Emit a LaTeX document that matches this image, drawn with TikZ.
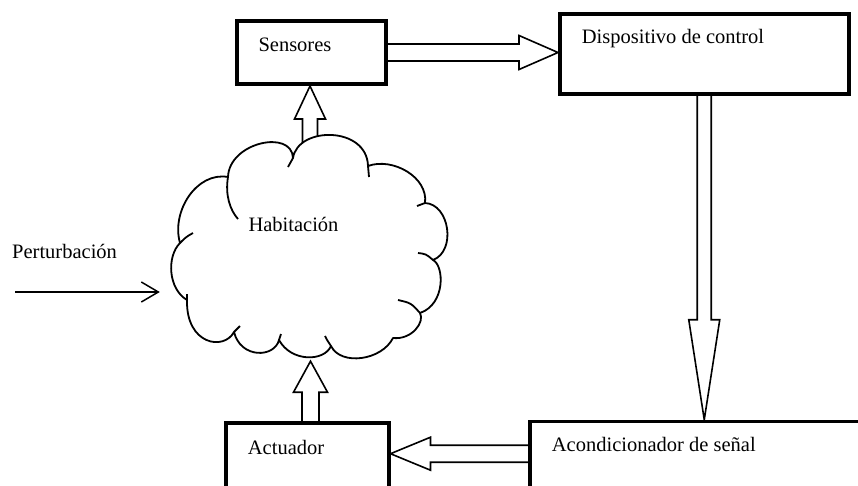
\documentclass[tikz,border=0pt]{standalone}
\usepackage{fontspec}
\setmainfont{Liberation Serif}
\usetikzlibrary{calc,arrows.meta,backgrounds}
\begin{document}
\begin{tikzpicture}[x=1pt,y=-1pt,
  boxA/.style={draw,line width=4pt,fill=white,inner sep=0pt,outer sep=0pt},
  boxB/.style={draw,line width=3.3pt,fill=white,inner sep=0pt,outer sep=0pt},
  lbl/.style={inner sep=0pt,anchor=base west,font=\fontsize{20.5}{24}\selectfont},
  blockarr/.style={draw,line width=1.6pt,fill=white,line join=miter},
  cloudline/.style={line width=1.8pt,line join=round},
  thinarr/.style={line width=1.5pt,-{Straight Barb[length=17pt,width=20pt]}}
]
\useasboundingbox (0,0) rectangle (858,485);
\clip (0,0) rectangle (858,485);

% boxes
\node[boxA, minimum width=149pt, minimum height=63pt] (sens) at (311.5,52.5) {};
\node[boxA, minimum width=288.5pt, minimum height=80pt] (disp) at (704.25,53.5) {};
\node[boxB, minimum width=163pt, minimum height=97pt] (act) at (307.5,471.5) {};
\node[boxB, minimum width=370pt, minimum height=98.3pt] (acon) at (715,470.85) {};
% cloud extent
\node[inner sep=0pt, minimum width=275pt, minimum height=226pt] (hab) at (310,248) {};

\coordinate (s1) at (sens.east);
\coordinate (t1) at ($(disp.west |- sens.east)+(-2,0)$);
\coordinate (s2) at (disp.south);
\coordinate (t2) at ($(disp.south |- acon.north)+(0,-2)$);
\coordinate (s3) at ($(acon.north west)+(0,32)$);
\coordinate (t3) at ($(act.east |- s3)+(1.5,0)$);
\coordinate (s4) at ($(act.north)+(3,0)$);
\coordinate (t4) at (s4 |- hab.south);
\coordinate (s5) at ($(hab.north)+(0,20)$);
\coordinate (t5) at ($(hab.north |- sens.south)+(0,2)$);
\coordinate (pa) at (15,292);

\begin{scope}[on background layer]
  \fill[white] (0,0) rectangle (858,485);
  % Sensores -> Dispositivo
  \draw[blockarr] ($(s1)+(0,-8.5)$) -- ($(t1)+(-39,-8.5)$) -- ($(t1)+(-39,-17)$) -- (t1)
     -- ($(t1)+(-39,17)$) -- ($(t1)+(-39,8.5)$) -- ($(s1)+(0,8.5)$);
  % Dispositivo -> Acondicionador
  \draw[blockarr] ($(s2)+(-7,0)$) -- ($(t2)+(-7,-100)$) -- ($(t2)+(-15.5,-100)$) -- (t2)
     -- ($(t2)+(15.5,-100)$) -- ($(t2)+(7,-100)$) -- ($(s2)+(7,0)$);
  % Acondicionador -> Actuador
  \draw[blockarr] ($(s3)+(0,-8.5)$) -- ($(t3)+(40,-8.5)$) -- ($(t3)+(40,-16.5)$) -- (t3)
     -- ($(t3)+(40,16.5)$) -- ($(t3)+(40,8.5)$) -- ($(s3)+(0,8.5)$);
  % Actuador -> Habitacion
  \draw[blockarr] ($(s4)+(-8.5,0)$) -- ($(t4)+(-8.5,31)$) -- ($(t4)+(-17,31)$) -- (t4)
     -- ($(t4)+(17,31)$) -- ($(t4)+(8.5,31)$) -- ($(s4)+(8.5,0)$);
  % Habitacion -> Sensores
  \draw[blockarr] ($(s5)+(-7.5,0)$) -- ($(t5)+(-7.5,33)$) -- ($(t5)+(-15.5,33)$) -- (t5)
     -- ($(t5)+(15.5,33)$) -- ($(t5)+(7.5,33)$) -- ($(s5)+(7.5,0)$);
\end{scope}

% cloud
\draw[cloudline, fill=white] (180,243)
  .. controls (171,211.6) and (196.6,171.4) .. (228,177)
  .. controls (229.1,142.3) and (291.9,128.9) .. (293,158)
  .. controls (298,126) and (367,126) .. (368,166)
  .. controls (392.6,157) and (428.4,177.2) .. (425,203)
  .. controls (449.6,204.1) and (456.5,251) .. (433,260)
  .. controls (444.2,265.6) and (445.8,304) .. (420,313)
  .. controls (425,322) and (412,340) .. (393,338)
  .. controls (381.8,360.4) and (341,366.2) .. (331,346)
  .. controls (324.3,361.7) and (291.3,362.4) .. (279,340)
  .. controls (274.5,357.9) and (240.7,358.9) .. (234,332)
  .. controls (223.9,351) and (185.9,344.8) .. (187,300)
  .. controls (168,288.8) and (166.6,256.4) .. (180,243) -- cycle;
% inner tails of the cloud
\draw[cloudline] (228,177) .. controls (225,195) and (230,210) .. (238,219);
\draw[cloudline] (293,158) .. controls (290,162) .. (288,167);
\draw[cloudline] (368,166) .. controls (369,171) .. (369,177);
\draw[cloudline] (425,203) .. controls (421,204) .. (417,206);
\draw[cloudline] (433,260) .. controls (426,254) .. (418,253);
\draw[cloudline] (420,313) .. controls (411,303) .. (398,300);
\draw[cloudline] (331,346) .. controls (327,340) .. (325,336);
\draw[cloudline] (279,340) .. controls (280,337) .. (281,334);
\draw[cloudline] (234,332) .. controls (237,329) .. (240,326);
\draw[cloudline] (187,300) -- (187,294);
\draw[cloudline] (180,243) .. controls (186,237) .. (193,233);

% disturbance arrow
\draw[thinarr] (pa) -- ($(hab.west)+(-12.5,44)$);

% texts
\node[lbl] (tsens) at (258.3,51.7) {Sensores};
\node[lbl] (tdisp) at (581.7,43.3) {Dispositivo de control};
\node[lbl] (tact) at (247.7,454) {Actuador};
\node[lbl] (tacon) at (551.7,451.7) {Acondicionador de señal};
\node[lbl] (thab) at (248.3,231.7) {Habitación};
\node[lbl] (tpert) at (12,258) {Perturbación};
\end{tikzpicture}
\end{document}
